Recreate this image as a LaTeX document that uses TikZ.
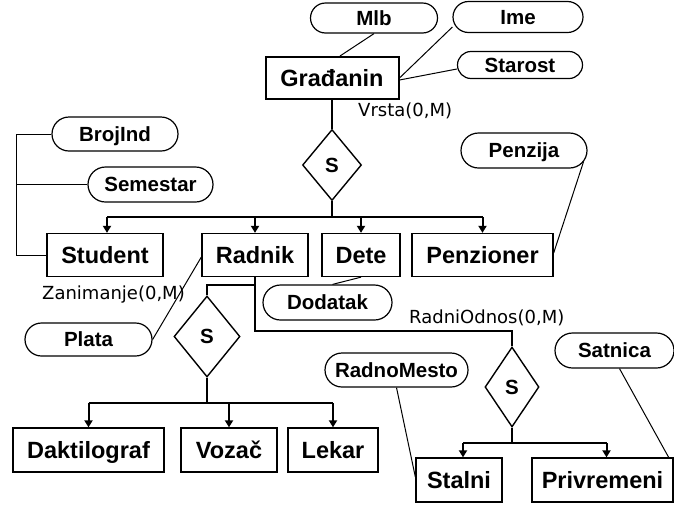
\documentclass[tikz,border=0pt]{standalone}
\usepackage{fontspec}
\setmainfont{Liberation Sans}
\newfontfamily\lblfont{DejaVu Sans}
\usetikzlibrary{shapes.geometric,shapes.misc,arrows.meta,calc}
\begin{document}
\begin{tikzpicture}[x=1pt,y=-1pt,
  entity/.style={draw,line width=1.3pt,inner sep=0pt,minimum height=43pt,
    text height=17pt,text depth=0pt,
    font=\fontsize{23.5}{28}\selectfont\bfseries},
  attr/.style={draw,rounded rectangle,line width=1.2pt,inner sep=0pt,minimum height=34pt,
    text height=14.5pt,text depth=0pt,
    font=\fontsize{20.5}{24}\selectfont\bfseries},
  spec/.style={draw,diamond,line width=1.4pt,inner sep=0pt,
    text height=14.5pt,text depth=0pt,
    font=\fontsize{20.5}{24}\selectfont\bfseries},
  lbl/.style={inner sep=0pt,anchor=west,font=\lblfont\fontsize{18}{22}\selectfont},
  bus/.style={line width=2pt},
  link/.style={line width=1pt},
  arr/.style={line width=2pt,-{Triangle[length=7pt,width=8pt]}}
]
\useasboundingbox (0,0) rectangle (674,504);
% top
\node[entity,line width=2pt,minimum width=133pt,minimum height=42pt] (G) at (332,78) {Građanin};
\node[attr,minimum width=127pt,minimum height=30pt] (Mlb) at (374,18) {Mlb};
\node[attr,minimum width=130pt,minimum height=31pt] (Ime) at (518,17) {Ime};
\node[attr,minimum width=125pt,minimum height=27pt] (Starost) at (520,65) {Starost};
\node[lbl] (vrsta) at (358,111) {Vrsta(0,M)};
\node[spec,minimum width=59pt,minimum height=71pt] (S1) at (332,165) {S};
% level 2
\node[entity,minimum width=116pt] (Student) at (105,255) {Student};
\node[entity,minimum width=106pt] (Radnik) at (255,255) {Radnik};
\node[entity,minimum width=78pt] (Dete) at (361,255) {Dete};
\node[entity,minimum width=141pt] (Penzioner) at (482.5,255) {Penzioner};
\node[attr,minimum width=126pt] (BrojInd) at (115,134) {BrojInd};
\node[attr,minimum width=125pt,minimum height=35pt] (Semestar) at (150.5,184.5) {Semestar};
\node[attr,minimum width=126pt,minimum height=35pt] (Penzija) at (524,150.5) {Penzija};
\node[attr,minimum width=129pt,minimum height=35pt] (Dodatak) at (327.5,302.5) {Dodatak};
\node[attr,minimum width=127pt,minimum height=33pt] (Plata) at (88.5,339.5) {Plata};
\node[lbl] (zan) at (42,295) {Zanimanje(0,M)};
\node[lbl] (rodn) at (409,318) {RadniOdnos(0,M)};
% level 3
\node[spec,minimum width=66pt,minimum height=81pt] (S2) at (207,336.5) {S};
\node[entity,minimum width=151pt,minimum height=44pt] (Dakt) at (88.5,450) {Daktilograf};
\node[entity,minimum width=96pt,minimum height=44pt] (Vozac) at (229,450) {Vozač};
\node[entity,minimum width=90pt,minimum height=44pt] (Lekar) at (333,450) {Lekar};
\node[attr,minimum width=143pt] (RadnoMesto) at (396.5,370) {RadnoMesto};
\node[spec,minimum width=54pt,minimum height=80pt] (S3) at (512,387) {S};
\node[attr,minimum width=119pt,minimum height=35pt] (Satnica) at (614.5,350.5) {Satnica};
\node[entity,minimum width=86pt,minimum height=44pt] (Stalni) at (459,480) {Stalni};
\node[entity,minimum width=141pt,minimum height=44pt] (Privremeni) at (602.5,480) {Privremeni};
% helper coordinates
\coordinate (b1) at (332,217);
\coordinate (lx) at (16,0);
\coordinate (r1) at (0,285);
\coordinate (r2) at (0,331);
\coordinate (b2) at (207,403);
\coordinate (b3) at (512,443);
% attribute links
\draw[link] (Mlb.south) -- ([xshift=8pt]G.north);
\draw[link] ([yshift=-10pt]Ime.west) -- (G.east);
\draw[link] ([yshift=-4pt]Starost.west) -- ([yshift=-2pt]G.east);
\draw[link] (BrojInd.west) -- (BrojInd.west -| lx) -- (Student.west -| lx) -- (Student.west);
\draw[link] (Semestar.west) -- (Semestar.west -| lx);
\draw[link] ($(Penzija.east)+(-4,11)$) -- ([yshift=2pt]Penzioner.east);
\draw[link] ([xshift=5pt]Dodatak.north) -- (Dete.south);
\draw[link] (Plata.east) -- ([yshift=-2pt]Radnik.west);
\draw[link] (RadnoMesto.south) -- ([yshift=3pt]Stalni.west);
\draw[link] ([xshift=5pt]Satnica.south) -- ([xshift=-5pt]Privremeni.north east);
% hierarchy 1
\draw[link,line width=1.3pt] (G.south) -- (S1.north);
\draw[bus] (S1.south) -- (b1);
\draw[bus] ([xshift=2pt]Student.north |- b1) -- (Penzioner.north |- b1);
\draw[arr] ([xshift=2pt]Student.north |- b1) -- ([xshift=2pt]Student.north);
\draw[arr] (Radnik.north |- b1) -- (Radnik.north);
\draw[arr] (Dete.north |- b1) -- (Dete.north);
\draw[arr] (Penzioner.north |- b1) -- (Penzioner.north);
% Radnik branches
\draw[bus] (Radnik.south) -- (Radnik.south |- r2) -| (S3.north);
\draw[bus] (Radnik.south |- r1) -| (S2.north);
% hierarchy 2
\draw[bus] (S2.south) -- (b2);
\draw[bus] (Dakt.north |- b2) -- (Lekar.north |- b2);
\draw[arr] (Dakt.north |- b2) -- (Dakt.north);
\draw[arr] (Vozac.north |- b2) -- (Vozac.north);
\draw[arr] (Lekar.north |- b2) -- (Lekar.north);
% hierarchy 3
\draw[bus] (S3.south) -- (b3);
\draw[bus] ([xshift=4pt]Stalni.north |- b3) -- ([xshift=4pt]Privremeni.north |- b3);
\draw[arr] ([xshift=4pt]Stalni.north |- b3) -- ([xshift=4pt]Stalni.north);
\draw[arr] ([xshift=4pt]Privremeni.north |- b3) -- ([xshift=4pt]Privremeni.north);
\end{tikzpicture}
\end{document}
